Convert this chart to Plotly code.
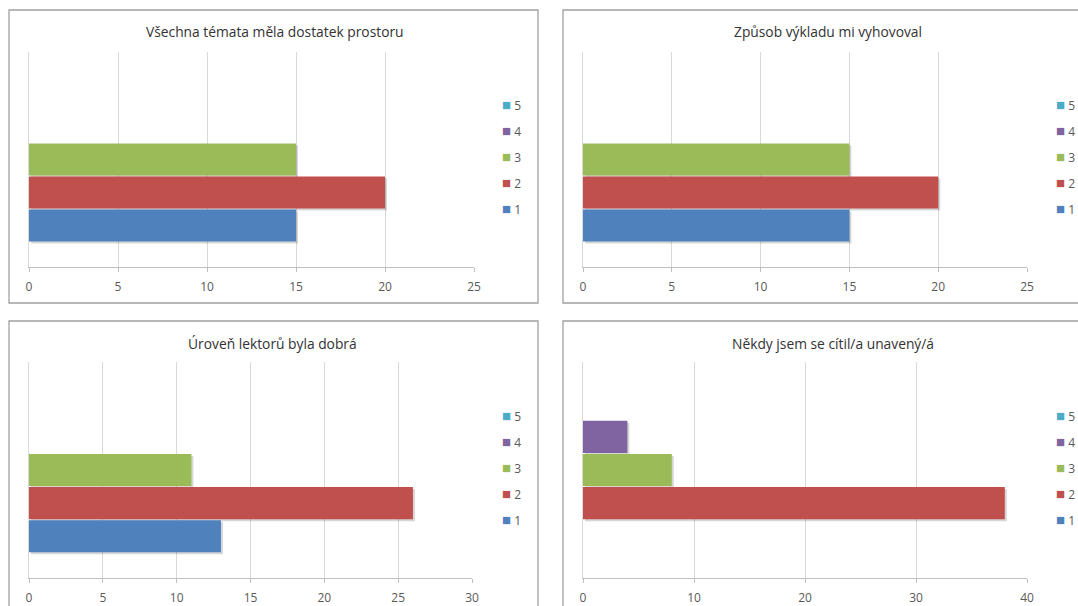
import plotly.graph_objects as go

W, H = 1078, 606

# Answer options (series) and their colours
series = ["1", "2", "3", "4", "5"]
colors = ["#4F81BD", "#C0504D", "#9BBB59", "#8064A2", "#4BACC6"]

# Survey statements (one chart each)
titles = [
    "Všechna témata měla dostatek prostoru",
    "Způsob výkladu mi vyhovoval",
    "Úroveň lektorů byla dobrá",
    "Někdy jsem se cítil/a unavený/á",
]

# Number of answers per option, per statement
values_temata = [15, 20, 15, 0, 0]
values_vyklad = [15, 20, 15, 0, 0]
values_lektori = [13, 26, 11, 0, 0]
values_unava = [0, 38, 8, 4, 0]

# Value-axis scale of each chart
x_max = [25, 25, 30, 40]
x_step = [5, 5, 5, 10]

data = [values_temata, values_vyklad, values_lektori, values_unava]

# Layout of each chart in pixels: frame box and plot area
frames = [(9, 10, 538, 303), (563, 10, 1092, 303), (9, 321, 538, 614), (563, 321, 1092, 614)]
plots = [(29, 52, 474, 267), (583, 52, 1027, 267), (29, 362, 472, 578), (583, 362, 1027, 578)]
title_cx = [275, 828, 273, 833]
legend_x = [502, 1056, 502, 1056]
SHADOW_PX = 2

FONT = "Open Sans"
GRID = "#D9D9D9"
AXIS = "#BFBFBF"
TXT = "#595959"


def px_x(v):
    return v / W


def px_y(v):
    return 1 - v / H


fig = go.Figure()
layout = dict(
    width=W,
    height=H,
    margin=dict(l=0, r=0, t=0, b=0, autoexpand=False),
    paper_bgcolor="white",
    plot_bgcolor="white",
    barmode="group",
    bargap=0.233,
    bargroupgap=0.03,
    font=dict(family=FONT, size=12, color=TXT),
    shapes=[],
    annotations=[],
)

for i in range(4):
    n = "" if i == 0 else str(i + 1)
    m = str(i + 5)
    xa, ya = "x" + n, "y" + n          # base axes: bar shadows
    xb, yb = "x" + m, "y" + m          # overlaid axes: bars, grid, ticks
    leg = "legend" + n
    px0, py0, px1, py1 = plots[i]
    dx = SHADOW_PX * x_max[i] / (px1 - px0)
    dy = SHADOW_PX / (py1 - py0)

    # soft drop shadow under each bar
    for s, v in zip(series, data[i]):
        fig.add_trace(go.Bar(
            x=[v], y=[0], orientation="h", name=s,
            marker=dict(color="rgba(0,0,0,0.16)", line=dict(width=0)),
            xaxis=xa, yaxis=ya, showlegend=False, hoverinfo="skip",
        ))
    for s, c, v in zip(series, colors, data[i]):
        fig.add_trace(go.Bar(
            x=[v], y=[0], orientation="h", name=s,
            marker=dict(color=c, line=dict(width=0)),
            xaxis=xb, yaxis=yb, showlegend=False,
        ))
    # legend entries: small coloured square followed by the option label
    for k, (s, c) in enumerate(zip(series, colors)):
        fig.add_trace(go.Scatter(
            x=[None], y=[None], mode="lines",
            line=dict(width=0, color="rgba(0,0,0,0)"),
            name=f'<span style="color:{c};font-size:15px">■</span> {s}',
            legendgroup=f"g{i}{s}", legend=leg, legendrank=100 - k,
            xaxis=xa, yaxis=ya, showlegend=True,
        ))

    layout["xaxis" + n] = dict(
        domain=[px_x(px0), px_x(px1)], anchor=ya,
        range=[-dx, x_max[i] - dx], visible=False, fixedrange=True,
    )
    layout["yaxis" + n] = dict(
        domain=[px_y(py1), px_y(py0)], anchor=xa,
        range=[-0.5 + dy, 0.5 + dy], visible=False, fixedrange=True,
    )
    layout["xaxis" + m] = dict(
        overlaying=xa, anchor=yb,
        range=[0, x_max[i]], dtick=x_step[i], tick0=0,
        showgrid=True, gridcolor=GRID, gridwidth=1,
        showline=True, linecolor=AXIS, linewidth=1,
        ticks="outside", ticklen=4, tickcolor=AXIS,
        tickfont=dict(family=FONT, size=12, color=TXT),
        ticklabelstandoff=5,
        zeroline=False, fixedrange=True,
    )
    layout["yaxis" + m] = dict(
        overlaying=ya, anchor=xb,
        range=[-0.5, 0.5], showticklabels=False, showgrid=False,
        showline=True, linecolor=GRID, linewidth=1,
        ticks="", zeroline=False, fixedrange=True,
    )
    layout[leg] = dict(
        x=px_x(legend_x[i] - 40), xanchor="left",
        y=px_y((py0 + py1) / 2 - 2), yanchor="middle",
        traceorder="grouped", tracegroupgap=7,
        bgcolor="rgba(0,0,0,0)", borderwidth=0,
        font=dict(family=FONT, size=12, color=TXT),
        itemclick=False, itemdoubleclick=False,
    )

    fx0, fy0, fx1, fy1 = frames[i]
    layout["shapes"].append(dict(
        type="rect", xref="paper", yref="paper",
        x0=px_x(fx0), y0=px_y(fy1), x1=px_x(fx1), y1=px_y(fy0),
        line=dict(color="#A0A0A0", width=1.3), fillcolor="rgba(0,0,0,0)",
        layer="below",
    ))
    layout["annotations"].append(dict(
        text=titles[i], xref="paper", yref="paper",
        x=px_x(title_cx[i]), y=px_y(fy0 + 22),
        xanchor="center", yanchor="middle",
        showarrow=False, font=dict(family=FONT, size=13.8, color="#333333"),
    ))

fig.update_layout(**layout)
fig.write_html("out.html")
